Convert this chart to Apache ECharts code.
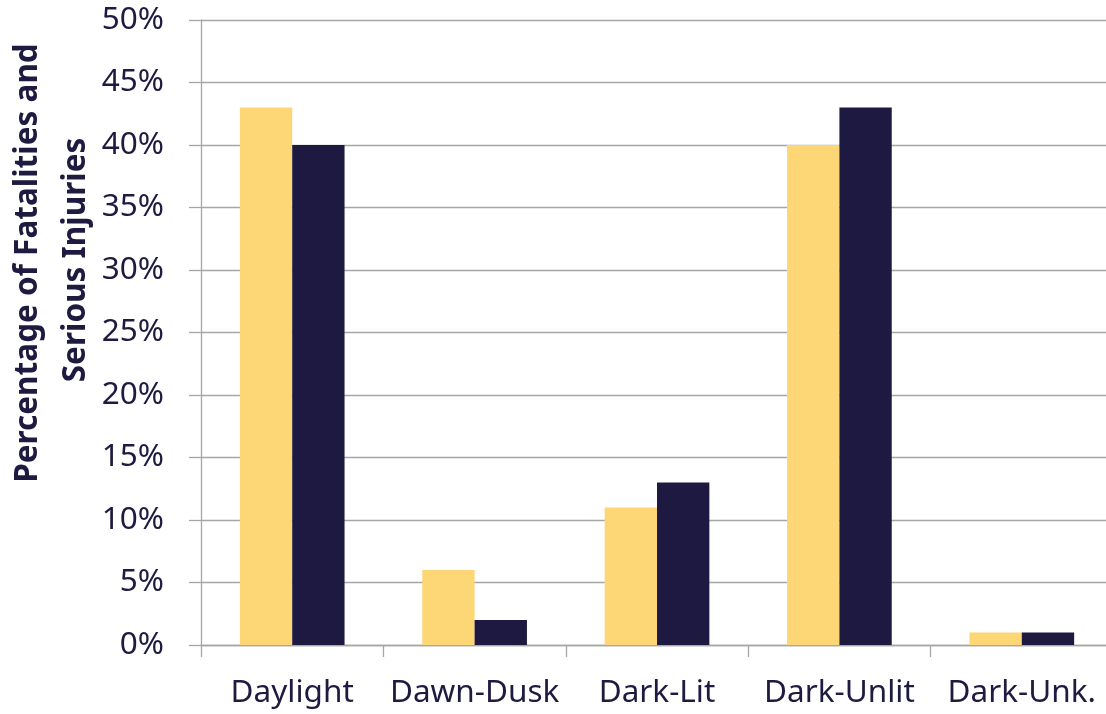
<!DOCTYPE html>
<html>
<head>
<meta charset="utf-8">
<script src="https://cdn.jsdelivr.net/npm/echarts@6/dist/echarts.min.js"></script>
<style>
html,body{margin:0;padding:0;background:#fff;overflow:hidden;width:1106px;height:714px;}
#chart{width:1113px;height:714px;}
</style>
</head>
<body>
<div id="chart"></div>
<script>
const categories = ['Daylight', 'Dawn-Dusk', 'Dark-Lit', 'Dark-Unlit', 'Dark-Unk.'];
const seriesA = [43, 6, 11, 40, 1];
const seriesB = [40, 2, 13, 43, 1];
const yTitleLines = ['Percentage of Fatalities and', 'Serious Injuries'];

const textColor = '#1E1A40';
const gridColor = '#A6A6A6';
const font = 'Noto Sans';

const chart = echarts.init(document.getElementById('chart'));
chart.setOption({
  animation: false,
  backgroundColor: '#ffffff',
  grid: { left: 201, top: 20, bottom: 69, right: 0, containLabel: false },
  xAxis: {
    type: 'category',
    data: categories,
    axisLine: { show: true, lineStyle: { color: gridColor, width: 1.3 } },
    axisTick: { show: true, length: 12, alignWithLabel: false, lineStyle: { color: gridColor, width: 1.3 } },
    axisLabel: { color: textColor, fontSize: 31.5, fontFamily: font, margin: 32, interval: 0 }
  },
  yAxis: {
    type: 'value',
    min: 0, max: 50, interval: 5,
    axisLine: { show: true, lineStyle: { color: gridColor, width: 1.3 } },
    axisTick: { show: true, length: 12, inside: false, lineStyle: { color: gridColor, width: 1.3 } },
    splitLine: { show: true, lineStyle: { color: gridColor, width: 1.3 } },
    axisLabel: { color: textColor, fontSize: 31.5, fontFamily: font, margin: 37, formatter: v => v + '%' }
  },
  graphic: [
    { type: 'text', x: 28, y: 263, rotation: Math.PI / 2,
      style: { text: yTitleLines[0], fill: textColor, font: 'bold 31.5px "Noto Sans"', textAlign: 'center', textVerticalAlign: 'middle' } },
    { type: 'text', x: 76, y: 260, rotation: Math.PI / 2,
      style: { text: yTitleLines[1], fill: textColor, font: 'bold 31.5px "Noto Sans"', textAlign: 'center', textVerticalAlign: 'middle' } }
  ],
  series: [
    { type: 'bar', data: seriesA, barGap: 0, barCategoryGap: '42.6%', itemStyle: { color: '#FDD675' } },
    { type: 'bar', data: seriesB, barGap: 0, barCategoryGap: '42.6%', itemStyle: { color: '#1E1940' } }
  ]
});
</script>
</body>
</html>
